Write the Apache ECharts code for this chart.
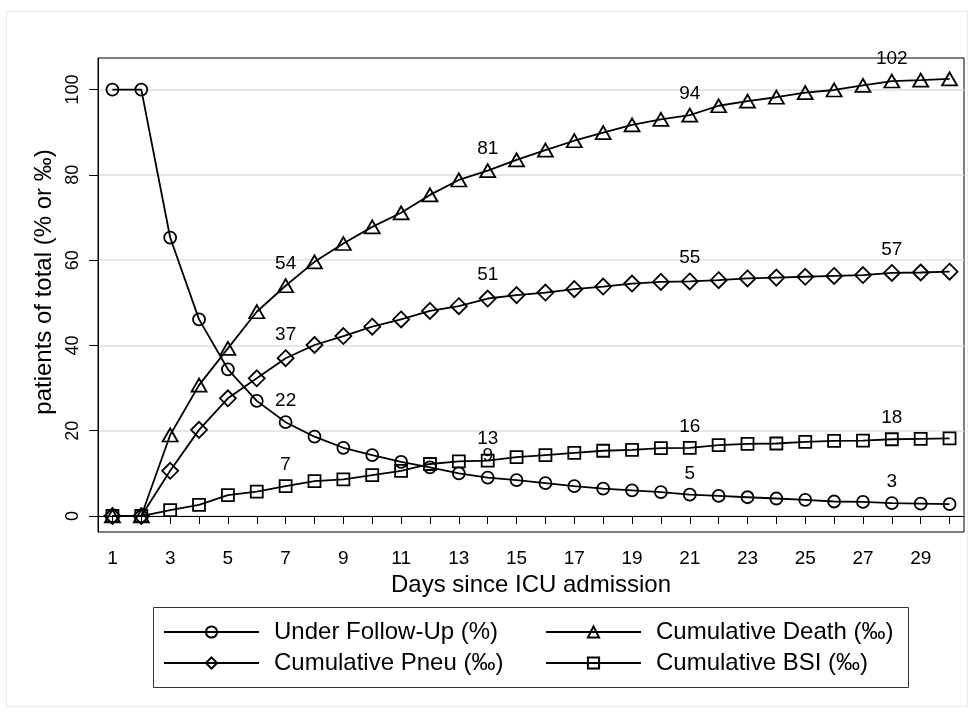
<!DOCTYPE html>
<html>
<head>
<meta charset="utf-8">
<title>Patients under follow-up and cumulative events by ICU day</title>
<script src="https://cdn.jsdelivr.net/npm/echarts@6/dist/echarts.min.js"></script>
<style>
  html, body { margin: 0; padding: 0; background: #fff; }
  #chart { width: 974px; height: 718px; }
</style>
</head>
<body>
<div id="chart"></div>
<script>
// Days since ICU admission
const days = [1, 2, 3, 4, 5, 6, 7, 8, 9, 10, 11, 12, 13, 14, 15,
              16, 17, 18, 19, 20, 21, 22, 23, 24, 25, 26, 27, 28, 29, 30];

// Share of patients still under follow-up (%)
const followUp = [100, 100, 65.3, 46.1, 34.4, 27.0, 22, 18.6, 16.0, 14.3, 12.7, 11.4, 10.0, 9, 8.4,
                  7.7, 7.0, 6.4, 6.0, 5.6, 5, 4.7, 4.4, 4.1, 3.8, 3.4, 3.3, 3, 2.9, 2.8];

// Cumulative death (per mille)
const death = [0, 0, 19.0, 30.7, 39.3, 47.9, 54, 59.6, 63.9, 67.8, 71.1, 75.3, 78.8, 81, 83.5,
               85.8, 88.0, 89.9, 91.7, 93.0, 94, 96.2, 97.3, 98.2, 99.3, 99.9, 101.0, 102, 102.2, 102.5];

// Cumulative pneumonia (per mille)
const pneu = [0, 0, 10.6, 20.2, 27.6, 32.3, 37, 40.1, 42.2, 44.4, 46.1, 48.1, 49.2, 51, 51.8,
              52.4, 53.2, 53.8, 54.5, 54.9, 55, 55.3, 55.7, 55.9, 56.1, 56.3, 56.5, 57, 57.1, 57.3];

// Cumulative bloodstream infection (per mille)
const bsi = [0, 0, 1.4, 2.6, 4.9, 5.7, 7, 8.2, 8.6, 9.6, 10.6, 12.2, 12.8, 13, 13.8,
             14.3, 14.8, 15.3, 15.5, 15.9, 16, 16.6, 16.9, 17.0, 17.4, 17.6, 17.7, 18, 18.1, 18.2];

// Days whose values are printed above the markers
const labelDays = [7, 14, 21, 28];

// Y axis ticks
const yTicks = [0, 20, 40, 60, 80, 100];

const FONT = '"Liberation Sans", Arial, Helvetica, sans-serif';

function lineSeries(name, values, symbol, size) {
  return {
    name: name,
    type: 'line',
    data: values,
    symbol: symbol,
    symbolSize: size,
    showSymbol: true,
    showAllSymbol: true,
    lineStyle: { color: '#000', width: 1.8 },
    itemStyle: { color: 'rgba(0,0,0,0)', borderColor: '#000', borderWidth: 1.8 },
    label: {
      show: true,
      position: 'top',
      distance: 5,
      color: '#000',
      fontSize: 19,
      fontFamily: FONT,
      formatter: function (p) {
        return labelDays.indexOf(days[p.dataIndex]) >= 0 ? String(p.value) : '';
      }
    },
    emphasis: { disabled: true },
    animation: false
  };
}

const legendBase = {
  orient: 'vertical',
  top: 620,
  padding: 0,
  itemWidth: 95,
  itemHeight: 14,
  itemGap: 7,
  selectedMode: false,
  textStyle: { fontSize: 24, lineHeight: 24, color: '#000', fontFamily: FONT, padding: [0, 0, 0, 10] }
};

const option = {
  backgroundColor: '#fff',
  animation: false,
  textStyle: { fontFamily: FONT, color: '#000' },
  grid: {
    left: 98, right: 10, top: 58, bottom: 186,
    show: true, borderColor: '#000', borderWidth: 1, backgroundColor: '#fff'
  },
  xAxis: {
    type: 'category',
    data: days,
    boundaryGap: true,
    name: 'Days since ICU admission',
    nameLocation: 'middle',
    nameGap: 36,
    nameTextStyle: { fontSize: 24, color: '#000', fontFamily: FONT },
    axisLine: { lineStyle: { color: '#000', width: 1 } },
    axisTick: { show: true, alignWithLabel: true, interval: 0, length: 8, lineStyle: { color: '#000', width: 1 } },
    axisLabel: {
      interval: function (index, value) { return Number(value) % 2 === 1; },
      margin: 17,
      fontSize: 19,
      color: '#000',
      fontFamily: FONT
    },
    splitLine: { show: false }
  },
  yAxis: {
    type: 'value',
    min: -3.75,
    max: 107.4,
    name: 'patients of total (% or ‰)',
    nameLocation: 'middle',
    nameGap: 39,
    nameTextStyle: { fontSize: 24, color: '#000', fontFamily: FONT, padding: [0, 0, 0, 26] },
    axisLine: { show: true, lineStyle: { color: '#000', width: 1 } },
    axisTick: { show: true, length: 9, customValues: yTicks, lineStyle: { color: '#000', width: 1 } },
    axisLabel: { customValues: yTicks, rotate: 90, margin: 16, fontSize: 18, color: '#000', fontFamily: FONT },
    splitLine: { show: true, lineStyle: { color: '#dedede', width: 1.5 } }
  },
  legend: [
    Object.assign({}, legendBase, { left: 163, data: ['Under Follow-Up (%)', 'Cumulative Pneu (‰)'] }),
    Object.assign({}, legendBase, { left: 545, data: ['Cumulative Death (‰)', 'Cumulative BSI (‰)'] })
  ],
  graphic: [
    {
      type: 'rect',
      silent: true,
      shape: { x: 6.5, y: 11.5, width: 961, height: 695 },
      style: { fill: 'none', stroke: '#e4ecee', lineWidth: 1 }
    },
    {
      type: 'rect',
      silent: true,
      shape: { x: 153.5, y: 607.5, width: 755, height: 80 },
      style: { fill: 'none', stroke: '#333', lineWidth: 1 }
    }
  ],
  series: [
    lineSeries('Under Follow-Up (%)', followUp, 'circle', 12),
    lineSeries('Cumulative Death (‰)', death, 'triangle', [15, 13]),
    lineSeries('Cumulative Pneu (‰)', pneu, 'diamond', [16, 16]),
    lineSeries('Cumulative BSI (‰)', bsi, 'rect', [12, 12])
  ]
};

const chart = echarts.init(document.getElementById('chart'), null, { renderer: 'canvas' });
chart.setOption(option);
</script>
</body>
</html>
